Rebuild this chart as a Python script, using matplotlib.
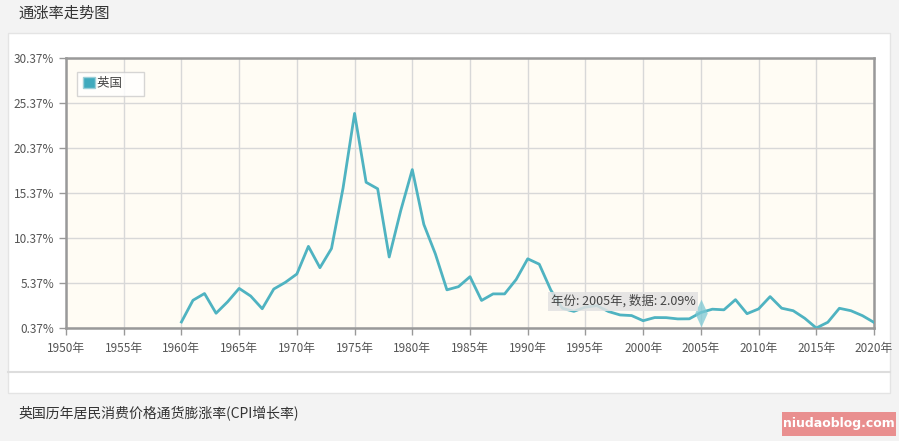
# -*- coding: utf-8 -*-
import matplotlib
matplotlib.use("Agg")
from matplotlib import pyplot as plt
from matplotlib.patches import Rectangle

plt.rcParams['font.family'] = ['Noto Sans CJK SC', 'DejaVu Sans']

# 英国 CPI 增长率 (%), 读图所得
years = list(range(1960, 2021))
cpi = [1.04, 3.45, 4.20, 2.01, 3.28, 4.77, 3.92, 2.51, 4.70, 5.44,
       6.37, 9.44, 7.07, 9.20, 15.90, 24.21, 16.56, 15.84, 8.26, 13.42,
       17.97, 11.88, 8.60, 4.61, 4.96, 6.07, 3.43, 4.16, 4.16, 5.76,
       8.06, 7.46, 4.59, 2.56, 2.22, 2.70, 2.85, 2.20, 1.82, 1.75,
       1.18, 1.53, 1.52, 1.38, 1.39, 2.09, 2.46, 2.39, 3.52, 1.96,
       2.49, 3.86, 2.57, 2.29, 1.45, 0.37, 1.01, 2.56, 2.29, 1.74,
       0.99]
x_ticks = list(range(1950, 2021, 5))
y_ticks = [0.37, 5.37, 10.37, 15.37, 20.37, 25.37, 30.37]
tip_year, tip_value = 2005, 2.09

W, H = 899, 441
fig = plt.figure(figsize=(W / 100, H / 100), dpi=100)
fig.patch.set_facecolor('#f3f3f3')

# 背景层 (像素坐标, 原点左上)
bg = fig.add_axes([0, 0, 1, 1], zorder=-1)
bg.set_xlim(0, W)
bg.set_ylim(H, 0)
bg.axis('off')
bg.add_patch(Rectangle((8, 33), 882, 360, facecolor='white', edgecolor='#e4e4e4', lw=1))
bg.plot([8, 890], [372, 372], color='#dddddd', lw=1.5)
bg.text(18, 13, "通涨率走势图", fontsize=11, color='#333333', va='center', ha='left')
bg.text(18, 414, "英国历年居民消费价格通货膨涨率(CPI增长率)", fontsize=10, color='#333333',
        va='center', ha='left')
bg.add_patch(Rectangle((782, 412), 114, 24, facecolor='#e98f8f', edgecolor='none'))
bg.text(839, 424, "niudaoblog.com", fontsize=9, color='white', fontweight='bold',
        va='center', ha='center', family=['DejaVu Sans'])

ax = fig.add_axes([66 / W, 1 - 328 / H, 808 / W, 270 / H])
ax.set_facecolor('#fffcf4')
ax.plot(years, cpi, color='#4fb3c1', lw=2, zorder=3, solid_joinstyle='round')

ax.set_xlim(1950, 2020)
ax.set_ylim(0.37, 30.37)
ax.set_xticks(x_ticks)
ax.set_xticklabels([f"{y}年" for y in x_ticks])
ax.set_yticks(y_ticks)
ax.set_yticklabels([f"{v:.2f}%" for v in y_ticks])
ax.grid(True, color='#d8d8d8', lw=1)
ax.set_axisbelow(True)
ax.tick_params(axis='both', colors='#999999', labelcolor='#555555', labelsize=8.5, length=5, width=1)
ax.tick_params(axis='x', pad=5)
for s in ax.spines.values():
    s.set_color('#999999')
    s.set_linewidth(1.8)

# 提示框
diamond = [(0, -1), (0.45, 0), (0, 1), (-0.45, 0), (0, -1)]
ax.plot([tip_year], [tip_value], marker=diamond, ms=20, color='#7cc9d4', alpha=0.75, zorder=4,
        markeredgecolor='none')
ax.annotate(f"年份: {tip_year}年, 数据: {tip_value:.2f}%", xy=(tip_year, tip_value),
            xytext=(-4, 8), textcoords='offset points', fontsize=9, color='#444444',
            va='center', ha='right',
            bbox=dict(boxstyle='square,pad=0.2', facecolor='#e2e2e2', edgecolor='none', alpha=0.85),
            zorder=5)

leg = ax.legend([Rectangle((0, 0), 1, 1, facecolor='#40aabd', edgecolor='#9ccfd8')], ["英国      "],
                loc='upper left', bbox_to_anchor=(0.014, 0.95), fontsize=9, frameon=True,
                fancybox=False, handlelength=1.0, handleheight=1.0, handletextpad=0.1,
                borderpad=0.45, borderaxespad=0)
leg.get_frame().set_edgecolor('#cccccc')
leg.get_frame().set_facecolor('white')
leg.get_frame().set_linewidth(1)
for t in leg.get_texts():
    t.set_color('#444444')

fig.savefig("out.png", dpi=100)
